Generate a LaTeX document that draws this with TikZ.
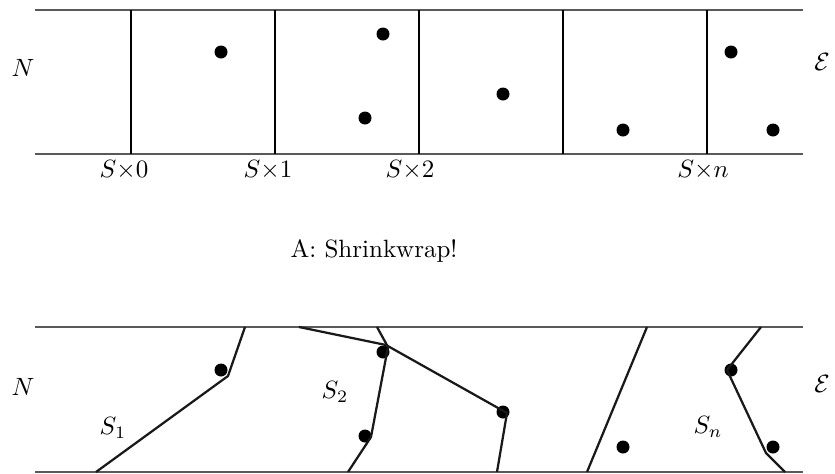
\documentclass[tikz,border=0pt]{standalone}
\begin{document}
\begin{tikzpicture}[x=0.4pt,y=-0.4pt,
  rail/.style={draw=black!65,line width=0.6pt},
  divider/.style={draw=black,line width=0.8pt},
  wrap/.style={draw=black!90,line width=0.9pt,line join=round},
  pt/.style={circle,fill=black,inner sep=0pt,minimum size=5.2pt},
  lbl/.style={inner sep=0pt}]
\useasboundingbox (0,0) rectangle (835,474);
% ---------- top panel ----------
\coordinate (tl) at (35,10);  \coordinate (tr) at (803,10);
\coordinate (bl) at (35,154); \coordinate (br) at (803,154);
\draw[rail] (tl) -- (tr);
\draw[rail] (bl) -- (br);
\foreach \i/\x in {0/131,1/275,2/419,3/563,4/707}{
  \coordinate (vt\i) at (\x,10); \coordinate (vb\i) at (\x,154);
  \draw[divider] (vt\i) -- (vb\i);
}
\node[pt] (a1) at (221,52) {};
\node[pt] (a2) at (383,34) {};
\node[pt] (a3) at (365,118) {};
\node[pt] (a4) at (503,94) {};
\node[pt] (a5) at (623,130) {};
\node[pt] (a6) at (731,52) {};
\node[pt] (a7) at (773,130) {};
\node[lbl] (nA) at (23,68) {$N$};
\node[lbl] (eA) at (822,62) {$\mathcal{E}$};
\node[lbl] (s0) at (124,170) {$S{\times}0$};
\node[lbl] (s1) at (268,170) {$S{\times}1$};
\node[lbl] (s2) at (410,170) {$S{\times}2$};
\node[lbl] (sn) at (703,170) {$S{\times}n$};
% ---------- caption ----------
\node[lbl,anchor=base] (cap) at (374,257) {A: Shrinkwrap!};
% ---------- bottom panel ----------
\coordinate (Tl) at (35,327);  \coordinate (Tr) at (803,327);
\coordinate (Bl) at (35,472); \coordinate (Br) at (803,472);
\draw[rail] (Tl) -- (Tr);
\draw[rail] (Bl) -- (Br);
\node[pt] (b1) at (221,370) {};
\node[pt] (b2) at (383,352) {};
\node[pt] (b3) at (365,436) {};
\node[pt] (b4) at (503,412) {};
\node[pt] (b5) at (623,447) {};
\node[pt] (b6) at (731,370) {};
\node[pt] (b7) at (773,447) {};
% path S1
\coordinate (p1a) at (96,472); \coordinate (p1b) at (228,376); \coordinate (p1c) at (245,327);
\draw[wrap] (p1a) -- (p1b) -- (p1c);
% long path through upper right dot
\coordinate (p2a) at (299,327); \coordinate (p2b) at (386,345);
\coordinate (p2c) at (507,413); \coordinate (p2d) at (497,472);
\draw[wrap] (p2a) -- (p2b) -- (p2c) -- (p2d);
% path S2
\coordinate (p3a) at (377,327); \coordinate (p3b) at (388,347);
\coordinate (p3c) at (371,437); \coordinate (p3d) at (348,472);
\draw[wrap] (p3a) -- (p3b) -- (p3c) -- (p3d);
% straight path
\coordinate (p4a) at (647,327); \coordinate (p4b) at (587,472);
\draw[wrap] (p4a) -- (p4b);
% path Sn
\coordinate (p5a) at (761,327); \coordinate (p5b) at (727,370);
\coordinate (p5c) at (766,453); \coordinate (p5d) at (785,472);
\draw[wrap] (p5a) -- (p5b) -- (p5c) -- (p5d);
\node[lbl] (nB) at (23,387) {$N$};
\node[lbl] (eB) at (822,384) {$\mathcal{E}$};
\node[lbl] (S1) at (113,428) {$S_1$};
\node[lbl] (S2) at (335,392) {$S_2$};
\node[lbl] (Sn) at (708,427) {$S_n$};
\end{tikzpicture}
\end{document}
